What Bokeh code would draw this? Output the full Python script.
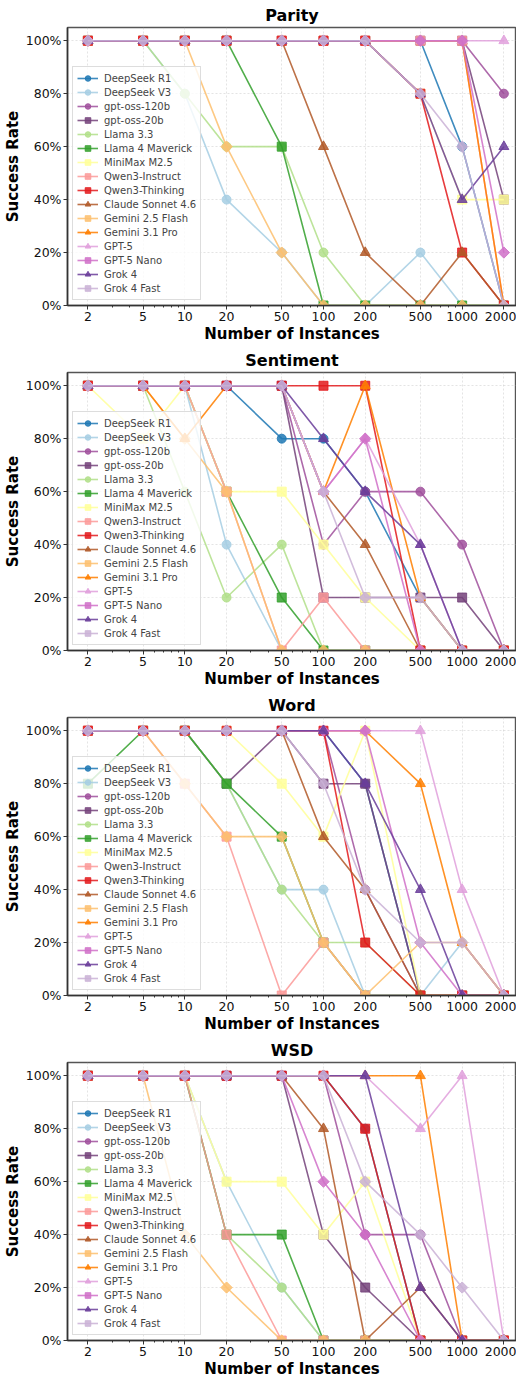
import math
from bokeh.plotting import figure
from bokeh.models import Range1d, FixedTicker, NumeralTickFormatter, Legend, LegendItem
from bokeh.layouts import column
from bokeh.embed import file_html
from bokeh.resources import INLINE

instances = [2, 5, 10, 20, 50, 100, 200, 500, 1000, 2000]
x_tick_labels = ["2", "5", "10", "20", "50", "100", "200", "500", "1000", "2000"]
y_ticks = [0, 0.2, 0.4, 0.6, 0.8, 1.0]

models = ["DeepSeek R1", "DeepSeek V3", "gpt-oss-120b", "gpt-oss-20b", "Llama 3.3",
          "Llama 4 Maverick", "MiniMax M2.5", "Qwen3-Instruct", "Qwen3-Thinking",
          "Claude Sonnet 4.6", "Gemini 2.5 Flash", "Gemini 3.1 Pro", "GPT-5",
          "GPT-5 Nano", "Grok 4", "Grok 4 Fast"]
colors = ["#1f78b4", "#a6cee3", "#a0509c", "#74427a", "#b2df8a", "#33a02c", "#ffff99",
          "#fb9a99", "#e31a1c", "#b15928", "#fdbf6f", "#ff7f00", "#e0a0dc",
          "#d070c8", "#6a3d9a", "#cab2d6"]
markers = ["circle", "circle", "circle", "square", "circle", "square", "square", "square",
           "square", "triangle", "diamond", "triangle", "triangle", "diamond", "triangle", "diamond"]

parity = {
    "DeepSeek R1":       [1, 1, 1, 1, 1, 1, 1, 1, 0.6, 0],
    "DeepSeek V3":       [1, 1, 0.8, 0.4, 0.2, 0, 0, 0.2, 0, 0],
    "gpt-oss-120b":      [1, 1, 1, 1, 1, 1, 1, 1, 1, 0.8],
    "gpt-oss-20b":       [1, 1, 1, 1, 1, 1, 1, 1, 1, 0.4],
    "Llama 3.3":         [1, 1, 0.8, 0.6, 0.6, 0.2, 0, 0, 0, 0],
    "Llama 4 Maverick":  [1, 1, 1, 1, 0.6, 0, 0, 0, 0, 0],
    "MiniMax M2.5":      [1, 1, 1, 1, 1, 1, 1, 0.8, 0.4, 0.4],
    "Qwen3-Instruct":    [1, 1, 1, 1, 1, 1, 1, 1, 1, 0],
    "Qwen3-Thinking":    [1, 1, 1, 1, 1, 1, 1, 0.8, 0.2, 0],
    "Claude Sonnet 4.6": [1, 1, 1, 1, 1, 0.6, 0.2, 0, 0.2, 0],
    "Gemini 2.5 Flash":  [1, 1, 1, 0.6, 0.2, 0, 0, 0, 0, 0],
    "Gemini 3.1 Pro":    [1, 1, 1, 1, 1, 1, 1, 1, 1, 0],
    "GPT-5":             [1, 1, 1, 1, 1, 1, 1, 1, 1, 1],
    "GPT-5 Nano":        [1, 1, 1, 1, 1, 1, 1, 1, 1, 0.2],
    "Grok 4":            [1, 1, 1, 1, 1, 1, 1, 0.8, 0.4, 0.6],
    "Grok 4 Fast":       [1, 1, 1, 1, 1, 1, 1, 0.8, 0.6, 0],
}

sentiment = {
    "DeepSeek R1":       [1, 1, 1, 1, 0.8, 0.8, 0.6, 0.2, 0, 0],
    "DeepSeek V3":       [1, 1, 1, 0.4, 0, 0, 0, 0, 0, 0],
    "gpt-oss-120b":      [1, 1, 1, 1, 1, 0.4, 0.6, 0.6, 0.4, 0],
    "gpt-oss-20b":       [1, 1, 1, 1, 1, 0.2, 0.2, 0.2, 0.2, 0],
    "Llama 3.3":         [1, 1, 0.6, 0.2, 0.4, 0, 0, 0, 0, 0],
    "Llama 4 Maverick":  [1, 1, 1, 0.6, 0.2, 0, 0, 0, 0, 0],
    "MiniMax M2.5":      [1, 0.8, 1, 0.6, 0.6, 0.4, 0.2, 0, 0, 0],
    "Qwen3-Instruct":    [1, 1, 1, 0.6, 0, 0.2, 0, 0, 0, 0],
    "Qwen3-Thinking":    [1, 1, 1, 1, 1, 1, 1, 0, 0, 0],
    "Claude Sonnet 4.6": [1, 1, 1, 1, 1, 0.6, 0.4, 0, 0, 0],
    "Gemini 2.5 Flash":  [1, 1, 0.8, 0.6, 0, 0, 0, 0, 0, 0],
    "Gemini 3.1 Pro":    [1, 1, 0.8, 1, 1, 0.6, 1, 0.2, 0, 0],
    "GPT-5":             [1, 1, 1, 1, 1, 0.6, 0.8, 0.4, 0, 0],
    "GPT-5 Nano":        [1, 1, 1, 1, 1, 0.6, 0.8, 0, 0, 0],
    "Grok 4":            [1, 1, 1, 1, 1, 0.8, 0.6, 0.4, 0, 0],
    "Grok 4 Fast":       [1, 1, 1, 1, 1, 0.6, 0.2, 0.2, 0, 0],
}

word = {
    "DeepSeek R1":       [1, 1, 1, 1, 1, 1, 0.8, 0, 0, 0],
    "DeepSeek V3":       [1, 1, 1, 0.8, 0.4, 0.4, 0, 0, 0.2, 0],
    "gpt-oss-120b":      [1, 1, 1, 1, 1, 1, 0.4, 0, 0, 0],
    "gpt-oss-20b":       [1, 1, 1, 0.8, 1, 0.8, 0.8, 0, 0, 0],
    "Llama 3.3":         [1, 1, 1, 0.8, 0.4, 0.2, 0.2, 0, 0, 0],
    "Llama 4 Maverick":  [0.8, 1, 1, 0.8, 0.6, 0.2, 0, 0, 0, 0],
    "MiniMax M2.5":      [1, 1, 1, 1, 0.8, 0.6, 1, 0, 0, 0],
    "Qwen3-Instruct":    [1, 1, 0.8, 0.6, 0, 0.2, 0, 0, 0, 0],
    "Qwen3-Thinking":    [1, 1, 1, 1, 1, 1, 0.2, 0, 0, 0],
    "Claude Sonnet 4.6": [1, 1, 1, 1, 1, 0.6, 0.4, 0, 0, 0],
    "Gemini 2.5 Flash":  [1, 1, 0.8, 0.6, 0.6, 0.2, 0, 0.2, 0.2, 0],
    "Gemini 3.1 Pro":    [1, 1, 1, 1, 1, 1, 1, 0.8, 0.2, 0],
    "GPT-5":             [1, 1, 1, 1, 1, 1, 1, 1, 0.4, 0],
    "GPT-5 Nano":        [1, 1, 1, 1, 1, 1, 1, 0.2, 0, 0],
    "Grok 4":            [1, 1, 1, 1, 1, 1, 0.8, 0.4, 0, 0],
    "Grok 4 Fast":       [1, 1, 1, 1, 1, 0.8, 0.4, 0.2, 0.2, 0],
}

wsd = {
    "DeepSeek R1":       [1, 1, 1, 1, 1, 1, 0.8, 0, 0, 0],
    "DeepSeek V3":       [1, 1, 1, 0.6, 0.2, 0, 0, 0, 0, 0],
    "gpt-oss-120b":      [1, 1, 1, 1, 1, 1, 0.4, 0.4, 0, 0],
    "gpt-oss-20b":       [1, 1, 1, 1, 1, 0.4, 0.2, 0, 0, 0],
    "Llama 3.3":         [1, 1, 1, 0.4, 0.2, 0, 0, 0, 0, 0],
    "Llama 4 Maverick":  [1, 1, 1, 0.4, 0.4, 0, 0, 0, 0, 0],
    "MiniMax M2.5":      [1, 1, 1, 0.6, 0.6, 0.4, 0.6, 0, 0, 0],
    "Qwen3-Instruct":    [1, 1, 1, 0.4, 0, 0, 0, 0, 0, 0],
    "Qwen3-Thinking":    [1, 1, 1, 1, 1, 1, 0.8, 0, 0, 0],
    "Claude Sonnet 4.6": [1, 1, 1, 1, 1, 0.8, 0, 0.2, 0, 0],
    "Gemini 2.5 Flash":  [1, 1, 0.4, 0.2, 0, 0, 0, 0, 0, 0],
    "Gemini 3.1 Pro":    [1, 1, 1, 1, 1, 1, 1, 1, 0, 0],
    "GPT-5":             [1, 1, 1, 1, 1, 1, 1, 0.8, 1, 0],
    "GPT-5 Nano":        [1, 1, 1, 1, 1, 0.6, 0.4, 0, 0, 0],
    "Grok 4":            [1, 1, 1, 1, 1, 1, 1, 0.2, 0, 0],
    "Grok 4 Fast":       [1, 1, 1, 1, 1, 1, 0.6, 0.4, 0.2, 0],
}

tasks = [("Parity", parity), ("Sentiment", sentiment), ("Word", word), ("WSD", wsd)]

FONT = "DejaVu Sans"
minor = []
for dec in [1, 10, 100, 1000]:
    for m in range(2, 10):
        v = m * dec
        if v not in instances and v <= 2800:
            minor.append(v)


def make_panel(title, data):
    p = figure(width=516, height=345, x_axis_type="log",
               x_range=Range1d(1.425, 2466), y_range=Range1d(0, 1.05),
               output_backend="svg", toolbar_location=None,
               min_border_left=59, min_border_right=0, min_border_top=8, min_border_bottom=2)
    p.title.text = title
    p.title.align = "center"
    p.title.text_font = FONT
    p.title.text_font_size = "16px"
    p.title.text_font_style = "bold"
    p.title.text_color = "#000000"
    p.title.standoff = 6

    p.xaxis.ticker = FixedTicker(ticks=instances, minor_ticks=minor)
    p.xaxis.major_label_overrides = {v: s for v, s in zip(instances, x_tick_labels)}
    p.yaxis.ticker = FixedTicker(ticks=y_ticks)
    p.yaxis.formatter = NumeralTickFormatter(format="0%")
    p.xaxis.axis_label = "Number of Instances"
    p.yaxis.axis_label = "Success Rate"
    for ax in (p.xaxis[0], p.yaxis[0]):
        ax.axis_label_text_font = FONT
        ax.axis_label_text_font_size = "15px"
        ax.axis_label_text_font_style = "bold"
        ax.axis_label_text_color = "#000000"
        ax.major_label_text_font = FONT
        ax.major_label_text_font_size = "12.5px"
        ax.major_label_text_color = "#111111"
        ax.axis_line_color = "#333333"
        ax.axis_line_width = 1.6
        ax.major_tick_line_color = "#333333"
        ax.minor_tick_line_color = "#333333"
        ax.major_tick_in = 0
        ax.major_tick_out = 4
        ax.minor_tick_in = 0
        ax.minor_tick_out = 2
        ax.major_label_standoff = 2
    p.xaxis.axis_label_standoff = 1
    p.yaxis.axis_label_standoff = 1
    p.outline_line_color = "#555555"
    p.outline_line_width = 1.4
    for g in (p.xgrid[0], p.ygrid[0]):
        g.grid_line_color = "#bbbbbb"
        g.grid_line_alpha = 0.5
        g.grid_line_dash = "2 2"
        g.grid_line_width = 0.8
    p.xgrid.ticker = FixedTicker(ticks=instances)

    items = []
    for name, col, mk in zip(models, colors, markers):
        ys = data[name]
        lr = p.line(instances, ys, line_color=col, line_width=1.6, line_alpha=0.85)
        if mk == "diamond":
            sr = p.scatter(instances, ys, marker="square", angle=math.pi / 4, size=8,
                           fill_color=col, line_color=col, fill_alpha=0.85, line_alpha=0.85)
        elif mk == "triangle":
            sr = p.scatter(instances, ys, marker="triangle", size=10,
                           fill_color=col, line_color=col, fill_alpha=0.85, line_alpha=0.85)
        else:
            sr = p.scatter(instances, ys, marker=mk, size=9,
                           fill_color=col, line_color=col, fill_alpha=0.85, line_alpha=0.85)
        items.append(LegendItem(label=name, renderers=[lr, sr]))

    leg = Legend(items=items, location="bottom_left", margin=5,
                 label_text_font=FONT, label_text_font_size="10px",
                 label_height=14, glyph_height=14, glyph_width=21, spacing=0,
                 padding=4, label_standoff=6,
                 border_line_color="#dddddd", border_line_alpha=1.0,
                 background_fill_color="#ffffff", background_fill_alpha=0.8)
    p.add_layout(leg)
    return p


panels = [make_panel(t, d) for t, d in tasks]
layout = column(*panels, spacing=0)

with open("out.html", "w") as f:
    f.write(file_html(layout, INLINE))
